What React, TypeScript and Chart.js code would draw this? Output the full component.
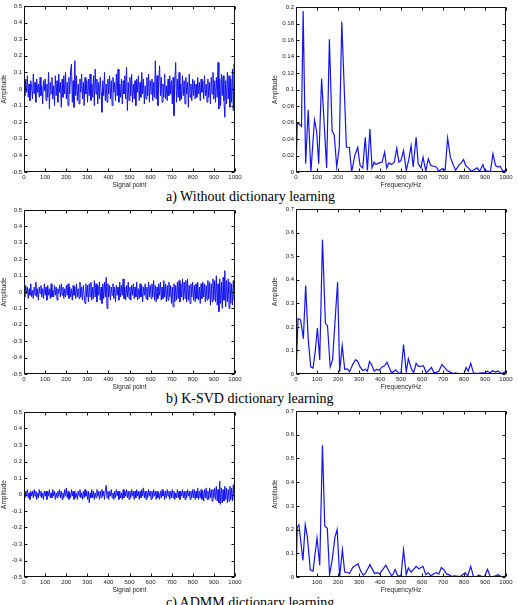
import React, { useEffect, useRef } from 'react';
import { Chart, registerables } from 'chart.js';

Chart.register(...registerables);

// ---------- DATA ----------
// Time-domain signals (sampled every ~4 signal points, 0..1000)
const signalA = [
  0.02,-0.04,0.06,-0.02,0.08,-0.05,0.03,-0.07,0.05,0.01,-0.06,0.09,-0.03,0.04,-0.08,0.06,-0.02,0.03,-0.05,0.07,-0.04,0.02,-0.09,0.05,-0.01,
  0.06,-0.07,0.03,-0.05,0.1,-0.12,0.04,-0.03,0.07,-0.06,0.02,-0.1,0.08,-0.04,0.05,-0.08,0.09,-0.02,0.04,-0.11,0.06,-0.05,0.08,-0.03,0.1,
  -0.06,0.04,-0.1,0.07,-0.03,0.11,0.15,-0.08,0.05,-0.11,0.17,-0.04,0.08,-0.07,0.03,-0.09,0.06,-0.02,0.09,-0.06,0.04,-0.1,0.07,-0.03,0.05,
  -0.08,0.06,-0.04,0.09,-0.07,0.03,-0.05,0.08,-0.1,0.12,-0.03,0.06,-0.09,0.04,-0.06,0.07,-0.02,-0.14,0.05,-0.04,0.1,-0.07,0.03,-0.08,0.06,
  -0.03,0.08,-0.06,0.05,-0.1,0.07,-0.02,0.04,-0.07,0.09,-0.04,0.12,-0.08,0.03,-0.05,0.06,-0.09,0.05,-0.03,0.08,-0.06,0.13,-0.13,0.04,-0.07,
  0.07,-0.04,0.09,-0.08,0.03,-0.06,0.05,-0.1,0.06,-0.02,0.08,-0.07,0.04,-0.05,0.1,-0.03,0.06,-0.09,0.02,-0.06,0.07,-0.04,0.09,-0.08,0.05,
  -0.03,0.06,-0.07,0.04,-0.05,0.17,-0.06,0.08,-0.1,0.05,0.14,-0.04,0.07,-0.08,0.03,-0.05,0.09,-0.06,0.02,-0.07,0.06,-0.04,0.08,-0.03,0.05,
  -0.09,0.07,-0.16,0.04,0.16,-0.08,0.06,-0.05,0.1,-0.07,0.03,-0.06,0.08,-0.04,0.05,-0.09,0.07,-0.03,0.04,-0.11,0.09,-0.05,0.03,-0.07,0.06,
  -0.04,0.05,-0.06,0.03,-0.05,0.07,-0.03,0.04,-0.07,0.06,-0.02,0.05,-0.06,0.08,-0.04,0.03,-0.08,0.06,-0.05,0.04,-0.09,0.07,-0.03,0.1,-0.06,
  0.05,-0.08,0.07,-0.05,0.16,-0.12,0.06,-0.1,0.09,-0.04,0.08,-0.07,-0.17,0.05,-0.09,0.1,-0.06,0.08,-0.11,0.06,-0.08,0.12,-0.13,0.15,-0.09,
];

const signalB = [
  0.02,-0.03,0.04,-0.01,0.03,-0.04,0.02,-0.02,0.05,-0.03,0.01,-0.04,0.03,-0.02,0.06,-0.03,0.02,-0.05,0.03,-0.01,0.04,-0.03,0.02,-0.04,0.05,
  -0.02,0.03,-0.05,0.04,-0.02,0.02,-0.04,0.05,-0.03,0.01,-0.03,0.04,-0.02,0.03,-0.05,0.02,-0.01,0.04,-0.03,0.05,-0.02,0.03,-0.04,0.02,-0.03,
  0.04,-0.02,0.05,-0.04,0.03,-0.03,0.02,-0.05,0.04,-0.02,0.03,-0.04,0.05,-0.03,0.02,-0.04,0.06,-0.03,0.03,-0.05,0.04,-0.02,-0.07,0.05,-0.03,
  0.04,-0.06,0.05,-0.03,0.06,-0.05,0.03,-0.04,0.07,-0.03,0.05,-0.06,0.04,-0.02,0.06,-0.05,0.03,-0.07,0.05,-0.04,0.06,-0.03,0.09,-0.1,0.05,
  -0.03,0.04,-0.05,0.03,-0.02,0.05,-0.04,0.03,-0.06,0.04,-0.02,0.03,-0.05,0.06,-0.03,0.04,-0.02,0.08,-0.04,0.03,-0.05,0.04,-0.03,0.06,-0.04,
  0.03,-0.05,0.04,-0.02,0.05,-0.04,0.03,-0.03,0.06,-0.05,0.02,-0.04,0.05,-0.03,0.04,-0.06,0.03,-0.02,0.05,-0.04,0.03,-0.05,0.06,-0.03,0.04,
  -0.04,0.05,-0.03,0.07,-0.05,0.04,-0.06,0.03,-0.04,0.05,-0.02,0.06,-0.05,0.03,-0.04,0.07,-0.03,0.05,-0.06,0.04,-0.05,0.06,-0.03,0.04,-0.07,
  0.03,-0.09,0.05,-0.06,0.04,-0.05,0.06,-0.04,0.07,-0.06,0.05,-0.03,0.08,-0.05,0.06,-0.04,0.07,-0.06,0.08,-0.05,0.04,-0.07,0.05,-0.03,0.06,
  -0.05,0.04,-0.06,0.05,-0.04,0.06,-0.05,0.03,-0.07,0.05,-0.04,0.06,-0.03,0.05,-0.06,0.04,-0.05,0.07,-0.04,0.06,-0.08,0.05,-0.06,0.08,-0.05,
  0.07,-0.06,0.1,-0.08,0.05,-0.12,0.08,-0.07,0.06,-0.1,0.09,-0.05,0.13,-0.09,0.07,-0.06,0.08,-0.1,0.06,-0.07,0.05,-0.08,0.07,-0.05,0.06,
];

const signalC = [
  0.01,-0.02,0.02,-0.01,0.03,-0.02,0.01,-0.03,0.02,-0.01,0.02,-0.02,0.03,-0.01,0.02,-0.03,0.01,-0.02,0.03,-0.01,0.02,-0.02,0.01,-0.03,0.02,
  -0.01,0.02,-0.03,0.02,-0.01,0.03,-0.02,0.01,-0.02,0.03,-0.01,0.02,-0.03,0.01,-0.02,0.02,-0.01,0.03,-0.02,0.02,-0.03,0.01,-0.02,0.03,-0.01,
  0.04,-0.02,0.02,-0.03,0.01,-0.02,0.03,-0.01,0.02,-0.03,0.02,-0.02,0.01,-0.03,0.02,-0.01,0.03,-0.02,0.01,-0.03,0.02,-0.02,0.03,-0.01,0.02,
  -0.03,0.02,-0.05,0.01,-0.02,0.03,-0.02,0.02,-0.03,0.01,-0.02,0.03,-0.01,0.02,-0.03,0.02,-0.02,0.03,-0.01,0.02,-0.03,0.03,0.055,-0.02,0.02,
  -0.03,0.02,-0.01,0.03,-0.02,0.01,-0.03,0.02,-0.02,0.03,-0.01,0.02,-0.03,0.02,-0.02,0.01,-0.03,0.03,-0.02,0.02,-0.01,0.03,-0.02,0.02,-0.03,
  0.02,-0.02,0.03,-0.01,0.02,-0.03,0.02,-0.02,0.03,-0.01,0.02,-0.03,0.02,-0.02,0.03,-0.01,0.04,-0.02,0.02,-0.03,0.02,-0.02,0.03,-0.01,0.02,
  -0.03,0.02,-0.02,0.03,-0.01,0.02,-0.03,0.02,-0.02,0.01,-0.03,0.02,-0.02,0.03,-0.01,0.02,-0.03,0.02,-0.02,0.03,-0.01,0.02,-0.03,0.02,-0.02,
  0.03,-0.02,0.02,-0.03,0.01,-0.02,0.03,-0.02,0.02,-0.03,0.02,-0.01,0.03,-0.02,0.02,-0.03,0.02,-0.02,0.03,-0.01,0.02,-0.03,0.02,-0.02,0.03,
  -0.02,0.03,-0.03,0.02,-0.02,0.04,-0.03,0.02,-0.02,0.03,-0.03,0.02,-0.04,0.03,-0.02,0.04,-0.03,0.02,-0.03,0.04,-0.02,0.03,-0.04,0.03,-0.02,
  0.04,-0.03,0.05,-0.04,0.03,-0.05,0.08,-0.06,0.04,-0.05,0.03,-0.04,0.05,-0.03,0.04,-0.05,0.03,-0.04,0.05,-0.03,0.04,-0.04,0.06,-0.03,0.03,
];

// Amplitude spectra
const specFreqA = [0,6,20,26,34,46,58,71,79,88,98,108,122,146,159,172,182,194,206,218,240,254,265,280,294,305,318,330,340,352,362,372,380,395,410,422,432,442,455,468,480,490,500,512,525,537,548,558,572,582,595,605,618,630,642,655,668,680,695,710,722,735,748,760,775,790,798,808,820,835,850,862,875,890,900,915,925,938,950,962,972,985,1000];
const specAmpA = [0,0.06,0.057,0.055,0.195,0.01,0.075,0,0.03,0.063,0.05,0.01,0.113,0.005,0.161,0.05,0.045,0.006,0.03,0.182,0.03,0.03,0,0.02,0.03,0.008,0.005,0.042,0.002,0.052,0.005,0.012,0.009,0.011,0.012,0.024,0.005,0.011,0.009,0.012,0.029,0.012,0.014,0.026,0.002,0.015,0.032,0.006,0.042,0.01,0.005,0.018,0.001,0.016,0.008,0.007,0.006,0.001,0.004,0.002,0.041,0.018,0.009,0.002,0.008,0.012,0.015,0.008,0.005,0.001,0.003,0.005,0.001,0.009,0.001,0.001,0,0.022,0.008,0.006,0.007,0.001,0.002];

const specFreqB = [0,10,22,35,46,58,70,81,92,102,113,126,140,150,163,174,198,208,220,232,245,255,270,283,293,305,318,330,340,350,360,372,385,395,410,422,433,445,455,465,475,487,500,512,525,535,548,560,572,583,595,607,620,632,645,657,670,680,695,707,720,735,748,760,775,790,800,810,820,832,845,860,875,890,900,912,925,937,950,962,975,987,1000];
const specAmpB = [0,0.235,0.23,0.15,0.375,0.15,0.03,0.025,0.1,0.195,0.06,0.57,0.215,0.205,0.03,0.06,0.39,0.01,0.12,0.02,0.022,0.01,0.04,0.06,0.055,0.03,0.015,0.02,0.012,0.053,0.04,0.012,0.02,0.015,0.03,0.035,0.05,0.025,0.005,0.01,0.018,0.005,0.003,0.125,0.01,0.065,0.025,0.005,0.045,0.032,0.033,0.035,0.005,0.015,0.028,0.005,0.008,0.012,0.04,0.028,0.015,0.008,0.002,0.005,0.001,0,0,0.028,0.012,0.045,0.005,0.002,0.004,0.005,0.004,0.012,0.005,0.014,0.008,0.013,0.002,0.005,0.01];

const specFreqC = [0,6,14,33,44,54,68,81,100,113,126,137,149,160,172,186,196,208,221,232,245,255,270,285,295,308,320,330,342,352,365,375,388,398,412,428,442,455,462,472,485,500,512,525,535,548,572,585,605,618,630,642,658,670,680,692,705,718,728,740,755,770,785,805,818,832,845,860,872,885,898,912,925,940,950,962,975,990,1000];
const specAmpC = [0,0.21,0.22,0.07,0.22,0.17,0.03,0.025,0.165,0.05,0.555,0.215,0.205,0.01,0.07,0.17,0.2,0,0.115,0.02,0.02,0.015,0.04,0.05,0.055,0.025,0.008,0.015,0.035,0.052,0.03,0.015,0.018,0.013,0.03,0.05,0.025,0.005,0.012,0.032,0.005,0.005,0.115,0.01,0.038,0.02,0.045,0.035,0.045,0.01,0.018,0.005,0.015,0.018,0.012,0.04,0.03,0.012,0.01,0.003,0.005,0.003,0.004,0.018,0.005,0.045,0.002,0.003,0.008,0.002,0.003,0.032,0.002,0.003,0.005,0.01,0.003,0.002,0.005];

const captions = [
  'a) Without dictionary learning',
  'b) K-SVD dictionary learning',
  'c) ADMM dictionary learning',
];

// ---------- STYLE ----------
const BLUE = 'rgb(20,20,240)';
const SANS = '"Liberation Sans", Arial, sans-serif';
const SERIF = '"Liberation Serif", "Times New Roman", serif';
const TXT = '#222';

const boxPlugin = {
  id: 'matlabBox',
  afterDatasetsDraw(chart: any) {
    const { ctx, chartArea, scales } = chart;
    const l = Math.round(chartArea.left) + 0.5;
    const r = Math.round(chartArea.right) - 0.5;
    const t = Math.round(chartArea.top) + 0.5;
    const b = Math.round(chartArea.bottom) - 0.5;
    ctx.save();
    ctx.strokeStyle = '#111';
    ctx.lineWidth = 1;
    ctx.strokeRect(l, t, r - l, b - t);
    const len = 3;
    ctx.beginPath();
    for (const tk of scales.x.ticks) {
      const px = Math.round(scales.x.getPixelForValue(tk.value)) + 0.5;
      ctx.moveTo(px, b); ctx.lineTo(px, b - len);
      ctx.moveTo(px, t); ctx.lineTo(px, t + len);
    }
    for (const tk of scales.y.ticks) {
      const py = Math.round(scales.y.getPixelForValue(tk.value)) + 0.5;
      ctx.moveTo(l, py); ctx.lineTo(l + len, py);
      ctx.moveTo(r, py); ctx.lineTo(r - len, py);
    }
    ctx.stroke();
    ctx.restore();
  },
};

const fmt = (v: number) => String(Math.round(v * 100) / 100);

type PanelProps = {
  left: number; top: number; width: number; height: number;
  yWidth: number; padRight: number;
  points: { x: number; y: number }[];
  yMin: number; yMax: number; yStep: number;
  xTitle: string; hideZeroX?: boolean; lw?: number;
};

function Panel(p: PanelProps) {
  const ref = useRef<HTMLCanvasElement>(null);
  useEffect(() => {
    const tickFont = { size: 6, family: SANS };
    const titleFont = { size: 6.5, family: SANS };
    const chart = new Chart(ref.current as HTMLCanvasElement, {
      type: 'line',
      data: {
        datasets: [{
          data: p.points,
          borderColor: BLUE,
          borderWidth: p.lw ?? 1,
          pointRadius: 0,
          tension: 0,
          fill: false,
        }],
      },
      options: {
        responsive: false,
        animation: false,
        events: [],
        layout: { padding: { left: 0, top: 6, right: p.padRight, bottom: 0 } },
        plugins: { legend: { display: false }, tooltip: { enabled: false } },
        scales: {
          x: {
            type: 'linear', min: 0, max: 1000,
            grid: { display: false, drawTicks: false },
            border: { display: false },
            ticks: {
              stepSize: 100, padding: 2, color: TXT, font: tickFont,
              autoSkip: false, maxRotation: 0,
              callback: (v: any) => (p.hideZeroX && v === 0 ? '' : String(v)),
            },
            title: { display: true, text: p.xTitle, color: TXT, font: titleFont, padding: 0 },
            afterFit: (s: any) => { s.height = 17; },
          },
          y: {
            type: 'linear', min: p.yMin, max: p.yMax,
            grid: { display: false, drawTicks: false },
            border: { display: false },
            ticks: {
              stepSize: p.yStep, padding: 2, color: TXT, font: tickFont, autoSkip: false,
              callback: (v: any) => fmt(Number(v)),
            },
            title: { display: true, text: 'Amplitude', color: TXT, font: titleFont, padding: 0 },
            afterFit: (s: any) => { s.width = p.yWidth; },
          },
        },
      } as any,
      plugins: [boxPlugin],
    });
    return () => chart.destroy();
  }, []);
  return (
    <div style={{ position: 'absolute', left: p.left, top: p.top, width: p.width, height: p.height }}>
      <canvas ref={ref} width={p.width} height={p.height} style={{ width: p.width, height: p.height, display: 'block' }} />
    </div>
  );
}

const toSignal = (arr: number[]) => arr.map((y, i) => ({ x: (i * 1000) / (arr.length - 1), y }));
const toSpec = (f: number[], a: number[]) => f.map((x, i) => ({ x, y: a[i] }));

export default function App() {
  const L = { left: 0, width: 250, yWidth: 24, padRight: 15 };
  const R = { left: 271, width: 247, yWidth: 25, padRight: 12 };
  const capStyle = (top: number): React.CSSProperties => ({
    position: 'absolute', left: 166, top, fontFamily: SERIF, fontSize: 14,
    lineHeight: '16px', color: '#000', whiteSpace: 'nowrap',
  });
  return (
    <div style={{ position: 'absolute', left: 0, top: 0, width: 518, height: 605, overflow: 'hidden', background: '#fff' }}>
      <Panel {...L} top={0} height={189} points={toSignal(signalA)} yMin={-0.5} yMax={0.5} yStep={0.1} xTitle="Signal point" />
      <Panel {...R} top={1} height={188} points={toSpec(specFreqA, specAmpA)} yMin={0} yMax={0.2} yStep={0.02} xTitle="Frequency/Hz" lw={1.2} />
      <div style={capStyle(189)}>{captions[0]}</div>
      <Panel {...L} top={204} height={187} points={toSignal(signalB)} yMin={-0.5} yMax={0.5} yStep={0.1} xTitle="Signal point" />
      <Panel {...R} top={203} height={188} points={toSpec(specFreqB, specAmpB)} yMin={0} yMax={0.7} yStep={0.1} xTitle="Frequency/Hz" lw={1.2} />
      <div style={capStyle(391)}>{captions[1]}</div>
      <Panel {...L} top={406} height={188} points={toSignal(signalC)} yMin={-0.5} yMax={0.5} yStep={0.1} xTitle="Signal point" />
      <Panel {...R} top={405} height={189} points={toSpec(specFreqC, specAmpC)} yMin={0} yMax={0.7} yStep={0.1} xTitle="Frequency/Hz" hideZeroX lw={1.2} />
      <div style={capStyle(595)}>{captions[2]}</div>
    </div>
  );
}
